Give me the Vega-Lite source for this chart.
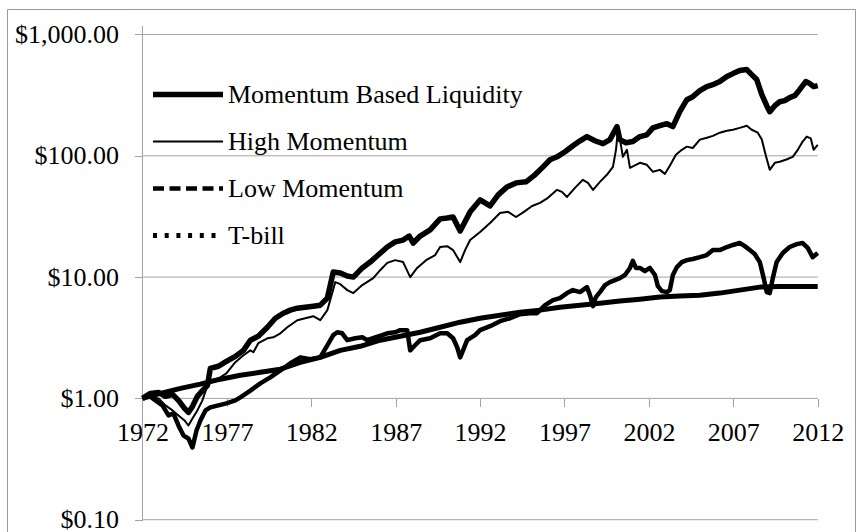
{
  "$schema": "https://vega.github.io/schema/vega-lite/v6.json",
  "width": 848,
  "height": 530,
  "autosize": {"type": "none"},
  "padding": {"left": 7, "top": 9, "right": 3, "bottom": 0},
  "background": "white",
  "config": {
    "view": {"stroke": "#9a9a9a", "strokeWidth": 1},
    "font": "Liberation Serif"
  },
  "datasets": {
    "grid": [
      {"t": 1972, "t2": 2012, "v": 0.1},
      {"t": 1972, "t2": 2012, "v": 1},
      {"t": 1972, "t2": 2012, "v": 10},
      {"t": 1972, "t2": 2012, "v": 100},
      {"t": 1972, "t2": 2012, "v": 1000}
    ],
    "yline": [{"t": 1972, "v": 0.1, "v2": 1175}],
    "mbl": [
      {"t":1972.00,"v":1.00},{"t":1972.47,"v":1.10},{"t":1972.95,"v":1.12},{"t":1973.36,"v":1.04},{"t":1973.78,"v":1.08},
      {"t":1974.13,"v":0.963},{"t":1974.49,"v":0.827},{"t":1974.72,"v":0.766},{"t":1974.96,"v":0.859},{"t":1975.25,"v":1.04},
      {"t":1975.55,"v":1.16},{"t":1975.85,"v":1.28},{"t":1976.02,"v":1.77},{"t":1976.50,"v":1.84},{"t":1976.97,"v":2.02},
      {"t":1977.50,"v":2.22},{"t":1977.98,"v":2.49},{"t":1978.39,"v":3.02},{"t":1978.86,"v":3.25},{"t":1979.40,"v":3.86},
      {"t":1979.87,"v":4.58},{"t":1980.34,"v":5.04},{"t":1980.76,"v":5.34},{"t":1981.17,"v":5.54},{"t":1981.64,"v":5.65},
      {"t":1982.12,"v":5.76},{"t":1982.53,"v":5.87},{"t":1982.95,"v":6.71},{"t":1983.30,"v":11.0},{"t":1983.72,"v":10.8},
      {"t":1984.13,"v":10.2},{"t":1984.49,"v":10.0},{"t":1985.02,"v":11.9},{"t":1985.49,"v":13.3},{"t":1985.96,"v":15.2},
      {"t":1986.50,"v":17.7},{"t":1986.97,"v":19.5},{"t":1987.44,"v":20.2},{"t":1987.80,"v":21.8},{"t":1988.04,"v":19.1},
      {"t":1988.45,"v":21.8},{"t":1989.04,"v":24.5},{"t":1989.63,"v":30.2},{"t":1990.05,"v":30.7},{"t":1990.40,"v":31.3},
      {"t":1990.82,"v":24.0},{"t":1991.41,"v":34.5},{"t":1992.00,"v":43.3},{"t":1992.59,"v":38.6},{"t":1993.07,"v":47.6},
      {"t":1993.60,"v":55.4},{"t":1994.13,"v":59.8},{"t":1994.72,"v":61.0},{"t":1995.25,"v":69.7},{"t":1995.73,"v":81.1},
      {"t":1996.14,"v":92.7},{"t":1996.56,"v":98.1},{"t":1997.03,"v":108},{"t":1997.50,"v":121},{"t":1997.92,"v":133},
      {"t":1998.33,"v":144},{"t":1998.80,"v":133},{"t":1999.28,"v":126},{"t":1999.69,"v":136},{"t":2000.11,"v":174},
      {"t":2000.28,"v":136},{"t":2000.64,"v":128},{"t":2001.05,"v":131},{"t":2001.47,"v":144},{"t":2001.88,"v":149},
      {"t":2002.24,"v":170},{"t":2002.65,"v":177},{"t":2003.07,"v":184},{"t":2003.42,"v":174},{"t":2003.83,"v":231},
      {"t":2004.25,"v":290},{"t":2004.60,"v":307},{"t":2005.02,"v":344},{"t":2005.43,"v":372},{"t":2005.79,"v":386},
      {"t":2006.20,"v":409},{"t":2006.62,"v":450},{"t":2006.98,"v":476},{"t":2007.38,"v":504},{"t":2007.80,"v":514},
      {"t":2008.09,"v":467},{"t":2008.39,"v":425},{"t":2008.69,"v":319},{"t":2008.98,"v":259},{"t":2009.16,"v":231},
      {"t":2009.46,"v":259},{"t":2009.75,"v":279},{"t":2010.05,"v":285},{"t":2010.34,"v":302},{"t":2010.64,"v":313},
      {"t":2010.93,"v":351},{"t":2011.29,"v":409},{"t":2011.53,"v":394},{"t":2011.76,"v":372},{"t":2012.00,"v":379}
    ],
    "high": [
      {"t":1972.00,"v":1.00},{"t":1972.47,"v":1.02},{"t":1972.95,"v":1.00},{"t":1973.36,"v":0.875},{"t":1973.78,"v":0.796},
      {"t":1974.13,"v":0.724},{"t":1974.49,"v":0.658},{"t":1974.72,"v":0.598},{"t":1974.96,"v":0.684},{"t":1975.25,"v":0.796},
      {"t":1975.55,"v":0.963},{"t":1975.85,"v":1.28},{"t":1976.02,"v":1.41},{"t":1976.50,"v":1.46},{"t":1976.97,"v":1.61},
      {"t":1977.50,"v":1.99},{"t":1977.98,"v":2.27},{"t":1978.39,"v":2.49},{"t":1978.57,"v":2.40},{"t":1978.86,"v":2.85},
      {"t":1979.40,"v":3.13},{"t":1979.75,"v":3.19},{"t":1980.17,"v":3.44},{"t":1980.58,"v":3.86},{"t":1981.17,"v":4.41},
      {"t":1981.64,"v":4.58},{"t":1982.12,"v":4.76},{"t":1982.53,"v":4.41},{"t":1982.95,"v":5.34},{"t":1983.42,"v":9.09},
      {"t":1983.72,"v":8.75},{"t":1984.13,"v":7.81},{"t":1984.49,"v":7.38},{"t":1985.02,"v":8.59},{"t":1985.67,"v":9.81},
      {"t":1986.08,"v":11.4},{"t":1986.50,"v":13.1},{"t":1986.97,"v":13.8},{"t":1987.44,"v":13.3},{"t":1987.86,"v":10.0},
      {"t":1988.27,"v":11.9},{"t":1988.80,"v":13.8},{"t":1989.34,"v":15.2},{"t":1989.63,"v":17.7},{"t":1990.05,"v":18.0},
      {"t":1990.40,"v":16.7},{"t":1990.82,"v":13.3},{"t":1991.11,"v":16.7},{"t":1991.41,"v":20.2},{"t":1992.00,"v":23.5},
      {"t":1992.59,"v":27.9},{"t":1993.18,"v":33.8},{"t":1993.66,"v":34.5},{"t":1994.13,"v":31.3},{"t":1994.60,"v":34.5},
      {"t":1995.08,"v":38.6},{"t":1995.55,"v":40.9},{"t":1996.02,"v":45.0},{"t":1996.56,"v":52.4},{"t":1996.85,"v":50.4},
      {"t":1997.15,"v":45.8},{"t":1997.62,"v":54.4},{"t":1998.09,"v":63.4},{"t":1998.39,"v":59.8},{"t":1998.69,"v":52.4},
      {"t":1999.10,"v":61.0},{"t":1999.51,"v":69.7},{"t":1999.87,"v":81.1},{"t":2000.05,"v":112},{"t":2000.17,"v":165},
      {"t":2000.34,"v":123},{"t":2000.46,"v":98.1},{"t":2000.70,"v":112},{"t":2000.88,"v":79.6},{"t":2001.23,"v":84.3},
      {"t":2001.47,"v":87.5},{"t":2001.88,"v":84.3},{"t":2002.24,"v":73.8},{"t":2002.65,"v":76.6},{"t":2002.95,"v":71.0},
      {"t":2003.24,"v":82.7},{"t":2003.60,"v":102},{"t":2003.95,"v":112},{"t":2004.25,"v":119},{"t":2004.60,"v":116},
      {"t":2005.02,"v":136},{"t":2005.43,"v":141},{"t":2005.79,"v":146},{"t":2006.20,"v":155},{"t":2006.62,"v":161},
      {"t":2006.98,"v":164},{"t":2007.38,"v":170},{"t":2007.80,"v":177},{"t":2008.09,"v":164},{"t":2008.45,"v":155},
      {"t":2008.69,"v":136},{"t":2008.93,"v":100},{"t":2009.16,"v":76.6},{"t":2009.46,"v":87.5},{"t":2009.75,"v":89.2},
      {"t":2010.11,"v":92.7},{"t":2010.52,"v":98.1},{"t":2010.82,"v":112},{"t":2011.11,"v":131},{"t":2011.35,"v":144},
      {"t":2011.59,"v":139},{"t":2011.76,"v":112},{"t":2012.00,"v":123}
    ],
    "low": [
      {"t":1972.00,"v":1.00},{"t":1972.36,"v":1.06},{"t":1972.77,"v":0.963},{"t":1973.18,"v":0.875},{"t":1973.54,"v":0.724},
      {"t":1973.83,"v":0.751},{"t":1974.13,"v":0.598},{"t":1974.43,"v":0.494},{"t":1974.72,"v":0.467},{"t":1974.96,"v":0.394},
      {"t":1975.20,"v":0.544},{"t":1975.43,"v":0.658},{"t":1975.73,"v":0.796},{"t":1976.02,"v":0.843},{"t":1976.50,"v":0.875},
      {"t":1976.97,"v":0.909},{"t":1977.50,"v":0.963},{"t":1977.80,"v":1.02},{"t":1978.39,"v":1.16},{"t":1978.98,"v":1.33},
      {"t":1979.57,"v":1.49},{"t":1980.17,"v":1.70},{"t":1980.76,"v":1.95},{"t":1981.35,"v":2.18},{"t":1981.94,"v":2.10},
      {"t":1982.53,"v":2.18},{"t":1982.95,"v":2.74},{"t":1983.30,"v":3.32},{"t":1983.54,"v":3.51},{"t":1983.83,"v":3.44},
      {"t":1984.13,"v":3.02},{"t":1984.60,"v":3.13},{"t":1985.02,"v":3.19},{"t":1985.31,"v":3.02},{"t":1985.79,"v":3.19},
      {"t":1986.20,"v":3.32},{"t":1986.50,"v":3.44},{"t":1986.97,"v":3.51},{"t":1987.27,"v":3.65},{"t":1987.68,"v":3.65},
      {"t":1987.86,"v":2.49},{"t":1988.15,"v":2.74},{"t":1988.45,"v":3.02},{"t":1989.04,"v":3.13},{"t":1989.63,"v":3.44},
      {"t":1990.05,"v":3.44},{"t":1990.40,"v":3.13},{"t":1990.64,"v":2.64},{"t":1990.82,"v":2.18},{"t":1990.99,"v":2.49},
      {"t":1991.23,"v":3.02},{"t":1991.70,"v":3.32},{"t":1992.00,"v":3.65},{"t":1992.59,"v":3.94},{"t":1993.18,"v":4.33},
      {"t":1993.78,"v":4.58},{"t":1994.37,"v":4.95},{"t":1994.96,"v":5.04},{"t":1995.37,"v":5.04},{"t":1995.85,"v":5.87},
      {"t":1996.32,"v":6.45},{"t":1996.73,"v":6.71},{"t":1997.15,"v":7.38},{"t":1997.50,"v":7.81},{"t":1997.92,"v":7.52},
      {"t":1998.33,"v":8.27},{"t":1998.51,"v":7.10},{"t":1998.69,"v":5.76},{"t":1998.86,"v":6.84},{"t":1999.10,"v":7.52},
      {"t":1999.40,"v":8.59},{"t":1999.69,"v":9.09},{"t":1999.99,"v":9.44},{"t":2000.28,"v":9.81},{"t":2000.58,"v":10.4},
      {"t":2000.88,"v":11.9},{"t":2001.05,"v":13.6},{"t":2001.23,"v":11.9},{"t":2001.47,"v":11.9},{"t":2001.76,"v":11.2},
      {"t":2002.06,"v":11.9},{"t":2002.36,"v":10.4},{"t":2002.53,"v":8.43},{"t":2002.77,"v":7.66},{"t":2003.07,"v":7.52},
      {"t":2003.24,"v":7.81},{"t":2003.42,"v":10.4},{"t":2003.66,"v":12.1},{"t":2003.95,"v":13.3},{"t":2004.25,"v":13.8},
      {"t":2004.60,"v":14.1},{"t":2005.02,"v":14.6},{"t":2005.43,"v":15.2},{"t":2005.79,"v":16.7},{"t":2006.20,"v":16.7},
      {"t":2006.62,"v":17.7},{"t":2006.98,"v":18.4},{"t":2007.38,"v":19.1},{"t":2007.68,"v":18.0},{"t":2007.98,"v":16.7},
      {"t":2008.27,"v":15.5},{"t":2008.57,"v":13.3},{"t":2008.80,"v":9.81},{"t":2008.98,"v":7.52},{"t":2009.16,"v":7.38},
      {"t":2009.34,"v":9.81},{"t":2009.57,"v":13.3},{"t":2009.93,"v":15.8},{"t":2010.34,"v":17.7},{"t":2010.76,"v":18.7},
      {"t":2011.11,"v":19.1},{"t":2011.41,"v":17.4},{"t":2011.70,"v":14.6},{"t":2012.00,"v":15.8}
    ],
    "tbill": [
      {"t":1972.00,"v":1.00},{"t":1973.07,"v":1.10},{"t":1974.25,"v":1.21},{"t":1975.43,"v":1.31},{"t":1976.62,"v":1.44},
      {"t":1977.80,"v":1.55},{"t":1978.98,"v":1.64},{"t":1980.17,"v":1.74},{"t":1981.35,"v":1.98},{"t":1982.53,"v":2.18},
      {"t":1983.72,"v":2.49},{"t":1984.90,"v":2.69},{"t":1986.08,"v":3.02},{"t":1987.27,"v":3.25},{"t":1988.45,"v":3.51},
      {"t":1989.63,"v":3.86},{"t":1990.82,"v":4.25},{"t":1992.00,"v":4.58},{"t":1993.18,"v":4.85},{"t":1994.37,"v":5.14},
      {"t":1995.55,"v":5.34},{"t":1996.73,"v":5.65},{"t":1997.92,"v":5.87},{"t":1999.10,"v":6.10},{"t":2000.28,"v":6.34},
      {"t":2001.47,"v":6.58},{"t":2002.65,"v":6.84},{"t":2003.83,"v":6.97},{"t":2005.02,"v":7.10},{"t":2006.20,"v":7.38},
      {"t":2007.38,"v":7.81},{"t":2008.57,"v":8.27},{"t":2009.75,"v":8.35},{"t":2010.93,"v":8.36},{"t":2012.00,"v":8.37}
    ]
  },
  "layer": [
    {
      "data": {"name": "grid"},
      "mark": {"type": "rule", "color": "#a3a3a3", "strokeWidth": 1},
      "encoding": {
        "x": {
          "field": "t", "type": "quantitative", "title": null,
          "scale": {"type": "linear", "domain": [1963.973, 2014.21], "nice": false, "zero": false},
          "axis": {
            "orient": "bottom", "offset": -140.5,
            "values": [1972, 1977, 1982, 1987, 1992, 1997, 2002, 2007, 2012],
            "format": "d", "domain": false, "grid": false,
            "tickSize": 8, "tickColor": "#a3a3a3", "tickWidth": 1,
            "labelFont": "Liberation Serif", "labelFontSize": 26, "labelColor": "black",
            "labelPadding": 13, "labelFlush": false, "labelOverlap": false
          }
        },
        "x2": {"field": "t2"},
        "y": {
          "field": "v", "type": "quantitative", "title": null,
          "scale": {"type": "log", "domain": [0.06933, 1622.6], "nice": false},
          "axis": {
            "orient": "left", "offset": -135.5,
            "values": [0.1, 1, 10, 100, 1000],
            "format": "$,.2f", "domain": false, "grid": false,
            "tickSize": 8, "tickColor": "#a3a3a3", "tickWidth": 1,
            "labelFont": "Liberation Serif", "labelFontSize": 26, "labelColor": "black",
            "labelPadding": 16, "labelFlush": false, "labelOverlap": false, "labelBaseline": "middle"
          }
        }
      }
    },
    {
      "data": {"name": "yline"},
      "mark": {"type": "rule", "color": "#a3a3a3", "strokeWidth": 1},
      "encoding": {
        "x": {"field": "t", "type": "quantitative", "title": null},
        "y": {"field": "v", "type": "quantitative", "title": null},
        "y2": {"field": "v2"}
      }
    },
    {
      "data": {"name": "mbl"},
      "mark": {"type": "line", "color": "black", "strokeJoin": "round"},
      "encoding": {
        "x": {"field": "t", "type": "quantitative", "title": null},
        "y": {"field": "v", "type": "quantitative", "title": null},
        "strokeWidth": {
          "datum": "Momentum Based Liquidity", "type": "nominal",
          "scale": {"type": "ordinal", "domain": ["Momentum Based Liquidity", "High Momentum", "Low Momentum", "T-bill"], "range": [5.5, 2, 4.5, 5]},
          "legend": {
            "title": null, "orient": "none", "legendX": 168, "legendY": 72.5,
            "padding": 0, "symbolType": "M-3.5,0L3.5,0", "symbolSize": 400,
            "symbolStrokeColor": "black", "symbolFillColor": "transparent",
            "labelFont": "Liberation Serif", "labelFontSize": 26, "labelColor": "black",
            "labelOffset": 27, "labelLimit": 500, "rowPadding": 21,
            "encode": {
              "symbols": {
                "update": {
                  "strokeDash": {"signal": "datum.value === 'Low Momentum' ? [11, 5.5] : datum.value === 'T-bill' ? [4, 7.7] : null"},
                  "strokeWidth": {"signal": "datum.value === 'Momentum Based Liquidity' ? 5 : datum.value === 'High Momentum' ? 2 : datum.value === 'Low Momentum' ? 3.2 : 4"},
                  "strokeCap": {"value": "butt"},
                  "stroke": {"value": "black"}
                }
              }
            }
          }
        }
      }
    },
    {
      "data": {"name": "high"},
      "mark": {"type": "line", "color": "black", "strokeJoin": "round"},
      "encoding": {
        "x": {"field": "t", "type": "quantitative", "title": null},
        "y": {"field": "v", "type": "quantitative", "title": null},
        "strokeWidth": {
          "datum": "High Momentum", "type": "nominal",
          "scale": {"type": "ordinal", "domain": ["Momentum Based Liquidity", "High Momentum", "Low Momentum", "T-bill"], "range": [5.5, 2, 4.5, 5]}
        }
      }
    },
    {
      "data": {"name": "low"},
      "mark": {"type": "line", "color": "black", "strokeJoin": "round"},
      "encoding": {
        "x": {"field": "t", "type": "quantitative", "title": null},
        "y": {"field": "v", "type": "quantitative", "title": null},
        "strokeWidth": {
          "datum": "Low Momentum", "type": "nominal",
          "scale": {"type": "ordinal", "domain": ["Momentum Based Liquidity", "High Momentum", "Low Momentum", "T-bill"], "range": [5.5, 2, 4.5, 5]}
        }
      }
    },
    {
      "data": {"name": "tbill"},
      "mark": {"type": "line", "color": "black", "strokeJoin": "round"},
      "encoding": {
        "x": {"field": "t", "type": "quantitative", "title": null},
        "y": {"field": "v", "type": "quantitative", "title": null},
        "strokeWidth": {
          "datum": "T-bill", "type": "nominal",
          "scale": {"type": "ordinal", "domain": ["Momentum Based Liquidity", "High Momentum", "Low Momentum", "T-bill"], "range": [5.5, 2, 4.5, 5]}
        }
      }
    }
  ]
}
